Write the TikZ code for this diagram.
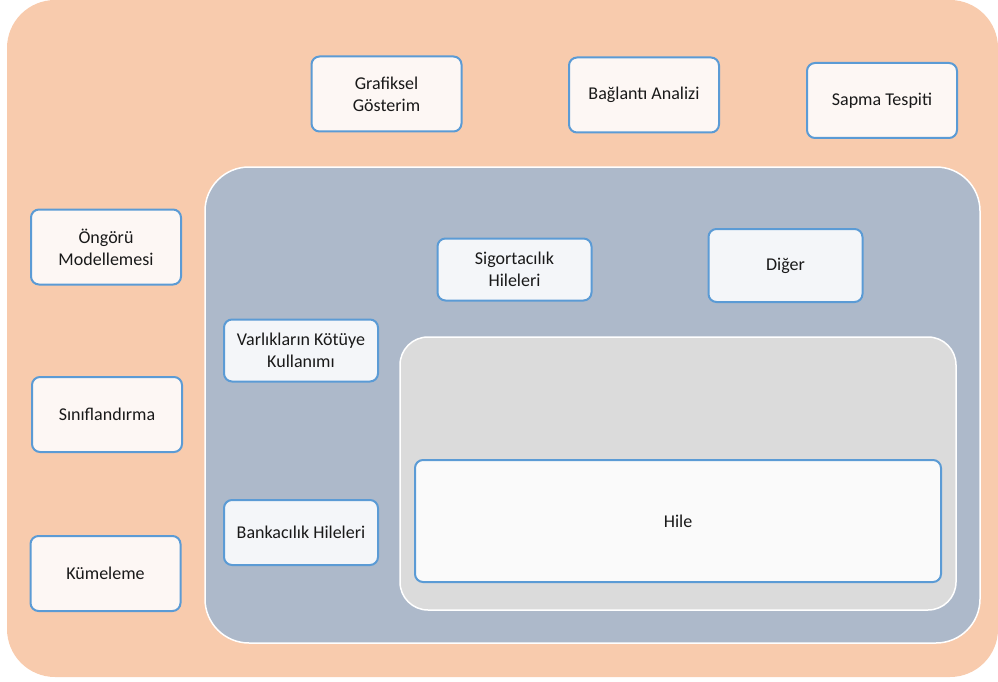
\documentclass[tikz,border=0pt]{standalone}
\usepackage{fontspec}
\setmainfont{Carlito}
\usetikzlibrary{positioning}

\definecolor{outerfill}{HTML}{F8CBAD}
\definecolor{midfill}{HTML}{ADB9CA}
\definecolor{innerfill}{HTML}{DBDBDB}
\definecolor{boxline}{HTML}{5B9BD5}
\definecolor{warmbox}{HTML}{FDF7F4}
\definecolor{coolbox}{HTML}{F4F6F9}
\definecolor{hilebox}{HTML}{FAFAFA}

\tikzset{
    method/.style={draw=boxline, line width=2pt, fill=warmbox, rounded corners=8pt,
        minimum width=150pt, minimum height=75pt, align=center,
        font=\fontsize{18}{22}\selectfont, text=black!90},
    fraudtype/.style={method, fill=coolbox, minimum width=154pt, minimum height=62pt}
}

\begin{document}
\begin{tikzpicture}[x=1pt, y=-1pt]
        \useasboundingbox (0,0) rectangle (998,682);

        % layers
        \fill[outerfill, rounded corners=48pt] (7,0) rectangle (998,677);
        \draw[white, line width=1.5pt, fill=midfill, rounded corners=44pt] (205,167) rectangle (980,643);
        \draw[white, line width=1.5pt, fill=innerfill, rounded corners=28pt] (400,337) rectangle (956,610);

        % methods
        \node[method] (grafik) at (386.5,94) {Grafiksel\\Gösterim};
        \node[method] (baglanti) at (644,95) {Bağlantı Analizi};
        \node[method] (sapma) at (882,100.5) {Sapma Tespiti};
        \node[method] (ongoru) at (106,247) {Öngörü\\Modellemesi};
        \node[method] (sinif) at (107,414.5) {Sınıflandırma};
        \node[method] (kume) at (105.5,573.5) {Kümeleme};

        % fraud types
        \node[fraudtype] (sigorta) at (514.5,269.5) {Sigortacılık\\Hileleri};
        \node[fraudtype, minimum height=73pt] (diger) at (785.5,265.5) {Diğer};
        \node[fraudtype] (varlik) at (301,350.5) {Varlıkların Kötüye\\Kullanımı};
        \node[fraudtype, minimum height=65pt] (banka) at (301,532.5) {Bankacılık Hileleri};

        \node[method, fill=hilebox, minimum width=526pt, minimum height=122pt] (hile) at (678,521) {Hile};
\end{tikzpicture}
\end{document}
